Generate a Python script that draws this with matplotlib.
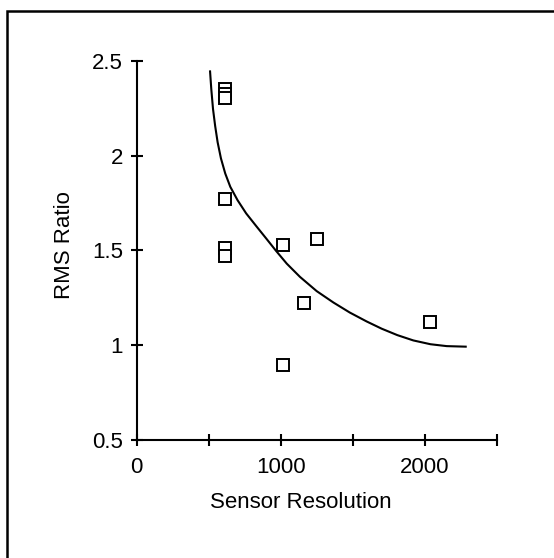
import matplotlib
matplotlib.use("Agg")
import matplotlib.pyplot as plt
from matplotlib.patches import Rectangle

# Data
sensor_resolution = [610, 610, 610, 610, 610, 610, 1018, 1254, 1162, 1014, 2037]
rms_ratio = [2.35, 2.327, 2.302, 1.77, 1.515, 1.468, 1.528, 1.558, 1.22, 0.895, 1.123]

curve_x = [509, 518, 530, 545, 562, 585, 615, 650, 700, 760, 830, 900, 967,
           1042, 1134, 1250, 1366, 1480, 1597, 1701, 1810, 1921, 2040, 2153, 2292]
curve_y = [2.449, 2.35, 2.245, 2.155, 2.07, 1.985, 1.905, 1.835, 1.765, 1.695,
           1.628, 1.562, 1.498, 1.43, 1.36, 1.285, 1.225, 1.172, 1.125, 1.087,
           1.053, 1.025, 1.005, 0.995, 0.992]

x_ticks = [0, 500, 1000, 1500, 2000, 2500]
x_tick_labels = ["0", "", "1000", "", "2000", ""]
y_ticks = [0.5, 1, 1.5, 2, 2.5]
y_tick_labels = ["0.5", "1", "1.5", "2", "2.5"]

plt.rcParams['font.family'] = ['Liberation Sans', 'DejaVu Sans']

W, H = 554, 558
fig = plt.figure(figsize=(W / 100, H / 100), dpi=100)
fig.patch.set_facecolor('white')

# outer frame (clipped at right and bottom in the reference)
fig.patches.append(Rectangle((7 / W, -0.05), 1.2, 1.05 - 11.3 / H,
                             transform=fig.transFigure, fill=False,
                             edgecolor='black', linewidth=1.8, clip_on=False))

left = 136.7 / W
right = 496.7 / W
bottom = 1 - 440 / H
top = 1 - 60.7 / H
ax = fig.add_axes([left, bottom, right - left, top - bottom])
ax.set_facecolor('none')

ax.plot(curve_x, curve_y, color='black', linewidth=1.5, solid_joinstyle='round',
        solid_capstyle='butt', clip_on=False)
ax.plot(sensor_resolution, rms_ratio, linestyle='none', marker='s',
        markersize=8.4, markerfacecolor='white', markeredgecolor='black',
        markeredgewidth=1.4, clip_on=False)

ax.set_xlim(0, 2500)
ax.set_ylim(0.5, 2.5)
ax.set_xticks(x_ticks)
ax.set_xticklabels(x_tick_labels)
ax.set_yticks(y_ticks)
ax.set_yticklabels(y_tick_labels)

for s in ['top', 'right']:
    ax.spines[s].set_visible(False)
for s in ['left', 'bottom']:
    ax.spines[s].set_linewidth(1.5)
    ax.spines[s].set_color('black')

ax.tick_params(axis='both', direction='inout', length=8, width=1.5,
               colors='black', labelsize=16)
ax.tick_params(axis='x', pad=8)
ax.tick_params(axis='y', pad=6)

fig.text(300.5 / W, 1 - 508 / H, "Sensor Resolution", fontsize=16,
         ha='center', va='baseline')
fig.text(65 / W, 1 - 245 / H, "RMS Ratio", fontsize=16, rotation=90,
         ha='center', va='center')

fig.savefig("out.png", dpi=100, facecolor='white')
